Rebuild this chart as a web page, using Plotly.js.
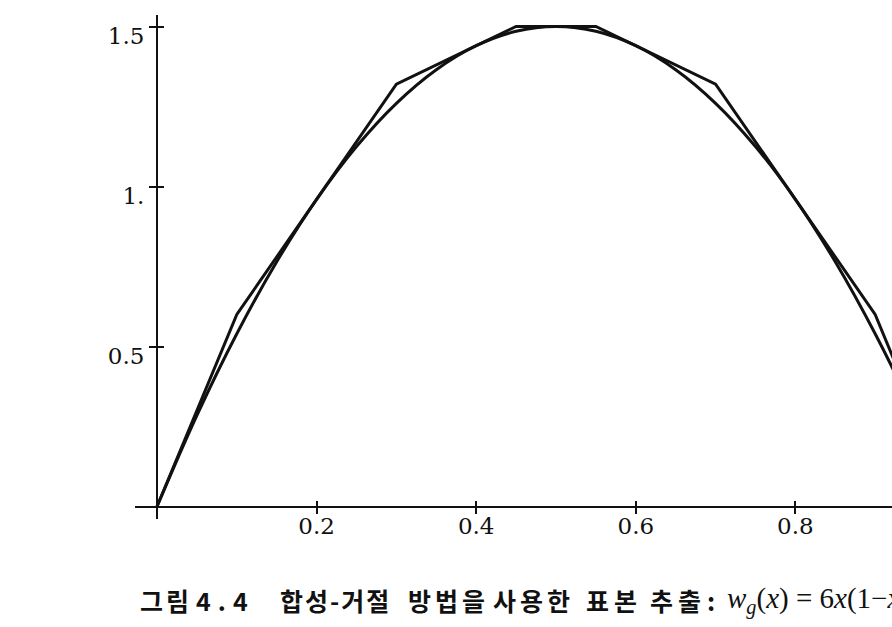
<!DOCTYPE html>
<html>
<head>
<meta charset="utf-8">
<script src="https://cdn.plot.ly/plotly-3.0.1.min.js"></script>
<style>html,body{margin:0;padding:0;background:#fff;}#chart{width:892px;height:627px;}</style>
</head>
<body>
<div id="chart"></div>
<script>
// Target density w_g(x)
const curveX = [0, 0.05, 0.1, 0.15, 0.2, 0.25, 0.3, 0.35, 0.4, 0.45, 0.5, 0.55, 0.6, 0.65, 0.7, 0.75, 0.8, 0.85, 0.9, 0.95, 1.0];
const curveY = [0, 0.285, 0.54, 0.765, 0.96, 1.125, 1.26, 1.365, 1.44, 1.485, 1.5, 1.485, 1.44, 1.365, 1.26, 1.125, 0.96, 0.765, 0.54, 0.285, 0];
// Piecewise-linear envelope vertices
const envX = [0, 0.1, 0.3, 0.45, 0.55, 0.7, 0.9, 1.0];
const envY = [0, 0.6, 1.32, 1.5, 1.5, 1.32, 0.6, 0];
// Ticks
const xTickVals = [0.2, 0.4, 0.6, 0.8, 1.0];
const xTickText = ['0.2', '0.4', '0.6', '0.8', '1.'];
const yTickVals = [0.5, 1.0, 1.5];
const yTickText = ['0.5', '1.', '1.5'];
// Caption words (Korean caption, cut at the right edge like the reference)
const captionWords = ['그림', '4.4', '합성-거절', '방법을', '사용한', '표본', '추출', ':'];
const captionMath = '<i>w</i><sub><i>g</i></sub>(<i>x</i>)\u00A0=\u00A06<i>x</i>(1−<i>x</i>)';

const xRange = [-0.0276, 0.9211];
const yRange = [-0.039, 1.536];
const xPos = (0 - xRange[0]) / (xRange[1] - xRange[0]);
const yPos = (0 - yRange[0]) / (yRange[1] - yRange[0]);

const tickFont = {family: 'DejaVu Serif', size: 23, color: '#111'};

const traces = [
  {x: curveX, y: curveY, mode: 'lines', line: {color: '#111', width: 3, shape: 'spline'}, xaxis: 'x', yaxis: 'y', hoverinfo: 'skip'},
  {x: envX, y: envY, mode: 'lines', line: {color: '#111', width: 3}, xaxis: 'x2', yaxis: 'y2', hoverinfo: 'skip'}
];

// caption word placement in pixels (left edges)
const plotL = 135, plotW = 757, plotT = 15, plotH = 504;
const wordLeft = [139, 195, 279, 407, 492, 585, 649, 706];
const wordSpacing = [3, 7, 2, 4, 4, 5, 5, 0];
const capMid = 600;
const toPX = px => (px - plotL) / plotW;
const capY = (plotT + plotH - capMid) / plotH;

const annotations = captionWords.map((w, i) => ({
  xref: 'paper', yref: 'paper', x: toPX(wordLeft[i]), y: capY,
  xanchor: 'left', yanchor: 'middle', showarrow: false, align: 'left', borderpad: 0,
  font: {family: 'Noto Sans CJK KR', size: 25, color: '#111'},
  text: '<span style="letter-spacing:' + wordSpacing[i] + 'px"><b>' + w + '</b></span>'
}));
annotations.push({
  xref: 'paper', yref: 'paper', x: toPX(726), y: capY,
  xanchor: 'left', yanchor: 'middle', showarrow: false, align: 'left', borderpad: 0,
  font: {family: 'Liberation Serif', size: 29, color: '#111'},
  text: captionMath
});

const layout = {
  width: 892, height: 627,
  margin: {l: 135, r: 0, t: 15, b: 108},
  paper_bgcolor: '#fff', plot_bgcolor: '#fff',
  showlegend: false,
  xaxis: {
    range: xRange, anchor: 'free', position: yPos,
    showgrid: false, zeroline: true, zerolinecolor: '#111', zerolinewidth: 2,
    showline: false,
    tickvals: xTickVals, ticktext: xTickText, ticks: 'inside', ticklen: 6, tickwidth: 2, tickcolor: '#111',
    tickfont: tickFont, ticklabelstandoff: 3
  },
  yaxis: {
    range: yRange, anchor: 'free', position: xPos,
    showgrid: false, zeroline: true, zerolinecolor: '#111', zerolinewidth: 2,
    showline: false,
    tickvals: yTickVals, ticktext: yTickText, ticks: 'outside', ticklen: 8, tickwidth: 2, tickcolor: '#111',
    tickfont: tickFont, ticklabelshift: 9, ticklabelstandoff: 0
  },
  xaxis2: {
    range: xRange, overlaying: 'x', anchor: 'free', position: yPos,
    showgrid: false, zeroline: false, showline: false,
    tickvals: xTickVals, ticks: 'outside', ticklen: 6, tickwidth: 2, tickcolor: '#111', showticklabels: false
  },
  yaxis2: {
    range: yRange, overlaying: 'y', anchor: 'free', position: xPos,
    showgrid: false, zeroline: false, showline: false,
    tickvals: yTickVals, ticks: 'inside', ticklen: 6, tickwidth: 2, tickcolor: '#111', showticklabels: false
  },
  annotations: annotations
};

Plotly.newPlot('chart', traces, layout, {staticPlot: true, displayModeBar: false});
</script>
</body>
</html>
